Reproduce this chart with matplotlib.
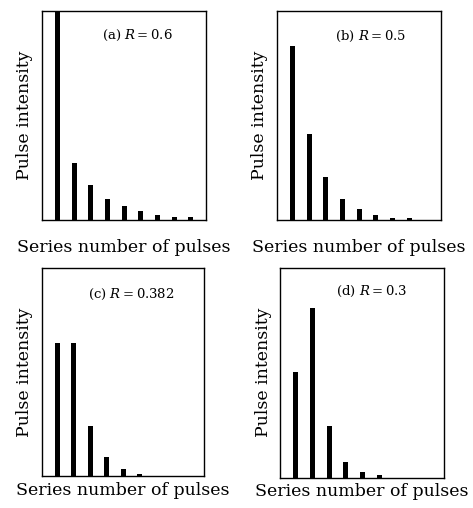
import matplotlib
matplotlib.use("Agg")
import matplotlib.pyplot as plt

# pulse index (1..9) and normalised intensities
pulses = [1, 2, 3, 4, 5, 6, 7, 8, 9]
intensity_a = [1.00, 0.274, 0.166, 0.099, 0.067, 0.043, 0.026, 0.014, 0.014]
intensity_b = [0.834, 0.413, 0.206, 0.099, 0.051, 0.024, 0.008, 0.008, 0.0]
intensity_c = [0.639, 0.639, 0.241, 0.091, 0.034, 0.008, 0.0, 0.0, 0.0]
intensity_d = [0.503, 0.809, 0.245, 0.073, 0.024, 0.010, 0.0, 0.0, 0.0]
panel_labels = ["(a) $R=0.6$", "(b) $R=0.5$", "(c) $R=0.382$", "(d) $R=0.3$"]
xlabel = "Series number of pulses"
ylabel = "Pulse intensity"

plt.rcParams["font.family"] = "DejaVu Serif"
plt.rcParams["mathtext.fontset"] = "dejavuserif"

fig = plt.figure(figsize=(4.73, 5.08), dpi=100)
boxes = [
    [0.088, 0.567, 0.347, 0.411],
    [0.585, 0.567, 0.347, 0.411],
    [0.088, 0.063, 0.343, 0.409],
    [0.592, 0.060, 0.347, 0.413],
]
label_x = [0.585, 0.57, 0.55, 0.56]
label_y = [0.885, 0.877, 0.875, 0.887]
xpads = [14, 14, 4, 4]
series = [intensity_a, intensity_b, intensity_c, intensity_d]

for box, values, label, lx, ly, pad in zip(boxes, series, panel_labels, label_x, label_y, xpads):
    ax = fig.add_axes(box)
    ax.bar(pulses, values, width=0.3, color="black")
    ax.set_xlim(0.05, 9.9)
    ax.set_ylim(0, 1)
    ax.set_xticks([])
    ax.set_yticks([])
    for spine in ax.spines.values():
        spine.set_linewidth(1.0)
    ax.set_xlabel(xlabel, fontsize=12.5, labelpad=pad)
    ax.set_ylabel(ylabel, fontsize=12.5, labelpad=6)
    ax.text(lx, ly, label, transform=ax.transAxes, ha="center", va="center", fontsize=9.5)

fig.savefig("out.png", dpi=100)
plt.close(fig)
